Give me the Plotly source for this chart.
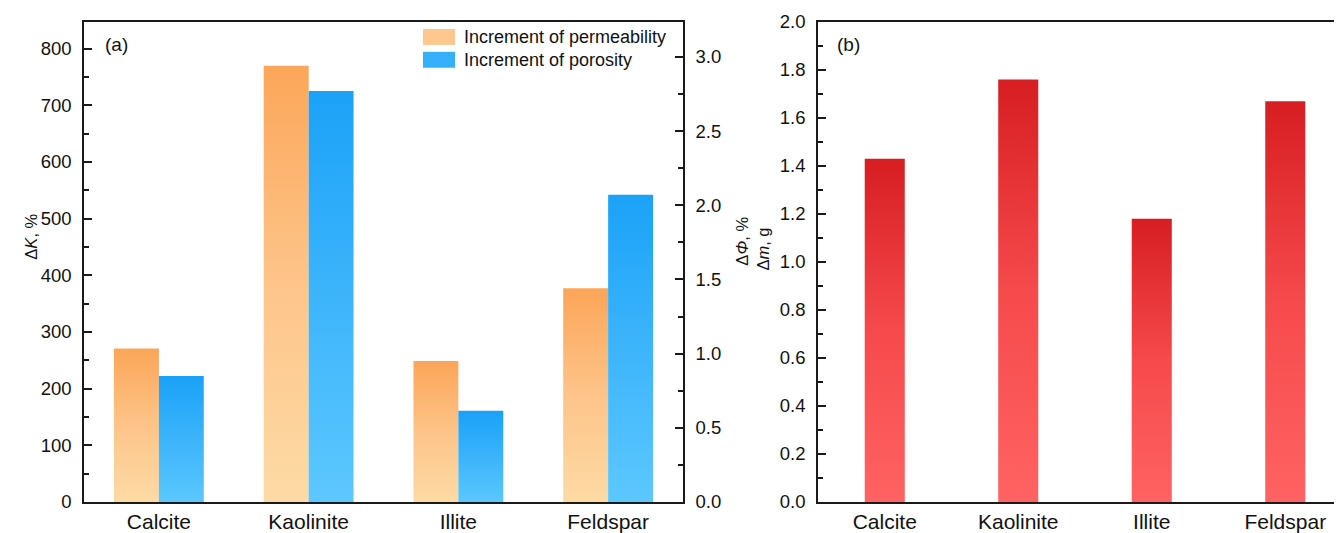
import plotly.graph_objects as go

categories = ["Calcite", "Kaolinite", "Illite", "Feldspar"]
perm_increment = [271, 770, 249, 377]          # ΔK, %
poro_increment = [0.85, 2.77, 0.615, 2.07]     # ΔΦ, %
mass_change = [1.43, 1.76, 1.18, 1.67]         # Δm, g

ORANGE = [[0, "#FDDBA6"], [0.5, "#FDC58A"], [1, "#FCA659"]]
BLUE = [[0, "#5DC8FE"], [0.5, "#3DB5FB"], [1, "#1BA2F8"]]
RED = [[0, "#FF6363"], [0.5, "#F64A4C"], [1, "#D71E22"]]

FONT = "Liberation Sans, Arial, sans-serif"
# page body has an 8px margin: size the figure so it ends at the window edge
OFF = 8
W, H = 1342 - OFF, 533 - OFF
MT, MB = 22 - OFF, 533 - 505
PLOT_H = H - MT - MB


def px(xw):
    return (xw - OFF) / W


def py(yw):
    return (H - MB - (yw - OFF)) / PLOT_H


fig = go.Figure()


def add_bar(xc, width, value, cscale, xaxis, yaxis, name):
    x0, x1 = xc - width / 2, xc + width / 2
    fig.add_trace(go.Scatter(
        x=[x0, x0, x1, x1, x0], y=[0, value, value, 0, 0],
        mode="lines", line=dict(width=0), fill="toself",
        fillgradient=dict(type="vertical", colorscale=cscale, start=0, stop=value),
        xaxis=xaxis, yaxis=yaxis, name=name, showlegend=False,
        hoverinfo="skip"))


bw = 0.3
for i, cat in enumerate(categories):
    add_bar(i - bw / 2, bw, perm_increment[i], ORANGE, "x", "y", "Increment of permeability")
    add_bar(i + bw / 2, bw, poro_increment[i], BLUE, "x", "y2", "Increment of porosity")
    add_bar(i, bw, mass_change[i], RED, "x2", "y3", "Mass change")

TICKFONT = dict(family=FONT, size=18.5, color="#111")
CATFONT = dict(family=FONT, size=21, color="#111")
TITLEFONT = dict(family=FONT, size=16.5, color="#111")
base = dict(showline=True, linecolor="#1a1a1a", linewidth=1.6, showgrid=False, zeroline=False)
yticks = dict(ticks="inside", ticklen=8, tickwidth=1.5, tickcolor="#1a1a1a", ticklabelstandoff=7,
              tickfont=TICKFONT)


def minor(d):
    return dict(dtick=d, ticks="inside", ticklen=5, tickwidth=1.5, tickcolor="#1a1a1a")


fig.update_layout(
    width=W, height=H,
    margin=dict(l=0, r=0, t=MT, b=MB),
    plot_bgcolor="white", paper_bgcolor="white",
    showlegend=False,
    font=dict(family=FONT, color="#111"),
    xaxis=dict(domain=[px(84), px(683)], range=[-0.5, 3.5], tickvals=list(range(len(categories))),
               ticktext=categories, ticks="", mirror=True, anchor="y", tickfont=CATFONT, **base),
    yaxis=dict(range=[0, 847], dtick=100, anchor="x", minor=minor(50), **yticks, **base),
    yaxis2=dict(range=[0, 3.235], dtick=0.5, tickformat=".1f", overlaying="y", side="right",
                anchor="x", minor=minor(0.25), **yticks, **base),
    xaxis2=dict(domain=[px(818), 1.0], range=[-0.5, 3.425], tickvals=list(range(len(categories))),
                ticktext=categories, ticks="", mirror=True, anchor="y3", tickfont=CATFONT, **base),
    yaxis3=dict(range=[0, 2.0], dtick=0.2, tickformat=".1f", anchor="x2", minor=minor(0.1),
                **yticks, **base),
)

# axis titles
for txt, xw, yw in (("Δ<i>K</i>, %", 31, 238), ("Δ<i>Φ</i>, %", 742, 243), ("Δ<i>m</i>, g", 763, 250)):
    fig.add_annotation(text=txt, x=px(xw), y=py(yw), xref="paper", yref="paper", textangle=-90,
                       showarrow=False, xanchor="center", yanchor="middle", font=TITLEFONT)

# panel labels
for lab, xw in (("(a)", 103), ("(b)", 835)):
    fig.add_annotation(text=lab, x=px(xw), y=py(45), xref="paper", yref="paper",
                       showarrow=False, xanchor="left", yanchor="middle",
                       font=dict(family=FONT, size=19, color="#111"))

# legend (swatches + labels)
legend_items = [("Increment of permeability", "#FDC78E", 37), ("Increment of porosity", "#35B1FB", 60)]
for label, color, yc in legend_items:
    fig.add_shape(type="rect", xref="paper", yref="paper",
                  x0=px(423), x1=px(455), y0=py(yc + 8), y1=py(yc - 8),
                  fillcolor=color, line=dict(width=0))
    fig.add_annotation(text=label, x=px(462), y=py(yc), xref="paper", yref="paper",
                       showarrow=False, xanchor="left", yanchor="middle",
                       font=dict(family=FONT, size=18, color="#111"))

fig.write_html("out.html")
